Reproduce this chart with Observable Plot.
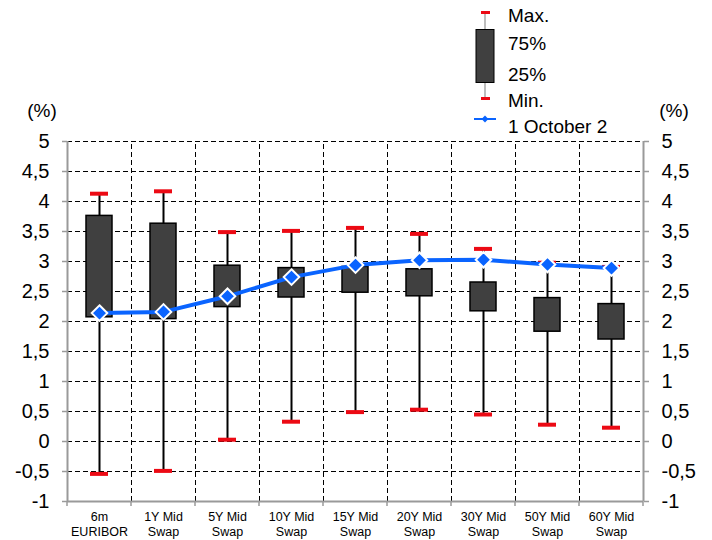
<!DOCTYPE html>
<html>
<head>
<meta charset="utf-8">
<script src="https://cdn.jsdelivr.net/npm/d3@7"></script>
<script src="https://cdn.jsdelivr.net/npm/@observablehq/plot@0.6"></script>
<style>
  html, body { margin: 0; padding: 0; background: white; }
  #chart { position: relative; width: 712px; height: 540px; }
</style>
</head>
<body>
<div id="chart"></div>
<script>
const categories = ["6m\nEURIBOR", "1Y Mid\nSwap", "5Y Mid\nSwap", "10Y Mid\nSwap", "15Y Mid\nSwap", "20Y Mid\nSwap", "30Y Mid\nSwap", "50Y Mid\nSwap", "60Y Mid\nSwap"];
const maxValues = [4.13, 4.17, 3.49, 3.51, 3.56, 3.46, 3.21, 2.98, 2.91];
const q75Values = [3.76, 3.63, 2.93, 2.89, 2.91, 2.87, 2.65, 2.39, 2.29];
const q25Values = [2.07, 2.04, 2.24, 2.40, 2.48, 2.42, 2.17, 1.83, 1.70];
const minValues = [-0.54, -0.49, 0.03, 0.33, 0.49, 0.53, 0.45, 0.28, 0.23];
const october1Values = [2.14, 2.16, 2.42, 2.74, 2.94, 3.02, 3.03, 2.95, 2.89];
const yTicks = [-1, -0.5, 0, 0.5, 1, 1.5, 2, 2.5, 3, 3.5, 4, 4.5, 5];
const legendLabels = ["Max.", "75%", "25%", "Min.", "1 October 2"];
const unitLabel = "(%)";

const data = categories.map((label, i) => ({
  i, label, max: maxValues[i], q75: q75Values[i], q25: q25Values[i], min: minValues[i], oct: october1Values[i]
}));
const boundaries = categories.slice(1).map((_, i) => i + 0.5);
const RED = "#ec0a14";
const BLUE = "#0a64ff";
const GRAY = "#9a9a9a";
const fmt = d => String(d).replace(".", ",");

const chart = Plot.plot({
  width: 712,
  height: 540,
  marginTop: 141,
  marginBottom: 39,
  marginLeft: 67,
  marginRight: 69,
  x: {domain: [-0.5, categories.length - 0.5], axis: null},
  y: {domain: [-1, 5], ticks: yTicks, tickFormat: fmt, axis: "both", label: null, tickSize: 5, tickPadding: 13},
  style: {fontFamily: "'Liberation Sans', Arial, sans-serif", fontSize: "20px", color: "black", background: "white"},
  marks: [
    Plot.ruleY(yTicks.filter(d => d > -1), {stroke: "black", strokeWidth: 1, strokeDasharray: "5,3"}),
    Plot.ruleX(boundaries, {y1: -1, y2: 5, stroke: "black", strokeWidth: 1, strokeDasharray: "5,3"}),
    Plot.ruleX([-0.5, categories.length - 0.5], {y1: -1, y2: 5, stroke: GRAY, strokeWidth: 2}),
    Plot.ruleY([-1], {stroke: GRAY, strokeWidth: 2}),
    Plot.ruleX(data, {x: "i", y1: "min", y2: "max", stroke: "black", strokeWidth: 2}),
    Plot.rect(data, {x1: d => d.i - 0.5, x2: d => d.i + 0.5, y1: "q25", y2: "q75", insetLeft: 19, insetRight: 19, fill: "#404040", stroke: "black", strokeWidth: 1.5}),
    Plot.ruleY(data, {x1: d => d.i - 0.5, x2: d => d.i + 0.5, y: "max", insetLeft: 23, insetRight: 23, stroke: RED, strokeWidth: 4}),
    Plot.ruleY(data, {x1: d => d.i - 0.5, x2: d => d.i + 0.5, y: "min", insetLeft: 23, insetRight: 23, stroke: RED, strokeWidth: 4}),
    Plot.line(data, {x: "i", y: "oct", stroke: BLUE, strokeWidth: 4}),
    Plot.dot(data, {x: "i", y: "oct", symbol: "diamond2", r: 7, fill: BLUE, stroke: "white", strokeWidth: 2}),
    Plot.text(data, {x: "i", text: "label", frameAnchor: "bottom", lineAnchor: "top", dy: 9, fontSize: 12.5, lineHeight: 1.2, fill: "black"})
  ]
});

document.getElementById("chart").appendChild(chart);
const svg = d3.select(chart);
svg.selectAll('g[aria-label^="y-axis"] line, g[aria-label^="y-axis"] path').attr("stroke", GRAY).attr("stroke-width", 1.5);
svg.selectAll('g[aria-label^="y-axis"] text').attr("fill", "black");

const xs = chart.scale("x");
const ys = chart.scale("y");
const yBottom = ys.apply(-1);
const bottomTicks = [-0.5, ...boundaries, categories.length - 0.5];
svg.append("g").selectAll("line").data(bottomTicks).join("line")
  .attr("x1", d => xs.apply(d)).attr("x2", d => xs.apply(d))
  .attr("y1", yBottom).attr("y2", yBottom + 5)
  .attr("stroke", GRAY).attr("stroke-width", 1.5);

// unit labels
const yTop = ys.apply(5);
svg.append("text").text(unitLabel).attr("x", 42).attr("y", yTop - 24).attr("text-anchor", "middle")
  .attr("font-size", 19).attr("fill", "black");
svg.append("text").text(unitLabel).attr("x", 674).attr("y", yTop - 24).attr("text-anchor", "middle")
  .attr("font-size", 19).attr("fill", "black");

// legend
const lg = svg.append("g").attr("font-family", "'Liberation Sans', Arial, sans-serif").attr("font-size", 19).attr("text-anchor", "start");
const cx = 485;
lg.append("line").attr("x1", cx).attr("x2", cx).attr("y1", 14).attr("y2", 98).attr("stroke", "#bdbdbd").attr("stroke-width", 2);
lg.append("rect").attr("x", 476).attr("y", 29.5).attr("width", 18).attr("height", 53).attr("fill", "#404040").attr("stroke", "black").attr("stroke-width", 1);
lg.append("line").attr("x1", 481).attr("x2", 490).attr("y1", 12.5).attr("y2", 12.5).attr("stroke", RED).attr("stroke-width", 3);
lg.append("line").attr("x1", 481).attr("x2", 490).attr("y1", 98.5).attr("y2", 98.5).attr("stroke", RED).attr("stroke-width", 3);
lg.append("line").attr("x1", 474).attr("x2", 496).attr("y1", 119).attr("y2", 119).attr("stroke", BLUE).attr("stroke-width", 2);
lg.append("path").attr("d", d3.symbol(d3.symbolDiamond2, 30)()).attr("transform", `translate(${cx},119)`).attr("fill", BLUE);
const legendY = [15, 43, 74, 100, 126];
lg.selectAll("text.lab").data(legendLabels).join("text")
  .attr("x", 508).attr("y", (d, i) => legendY[i]).attr("dy", "0.35em").attr("text-anchor", "start").attr("fill", "black").text(d => d);
</script>
</body>
</html>
